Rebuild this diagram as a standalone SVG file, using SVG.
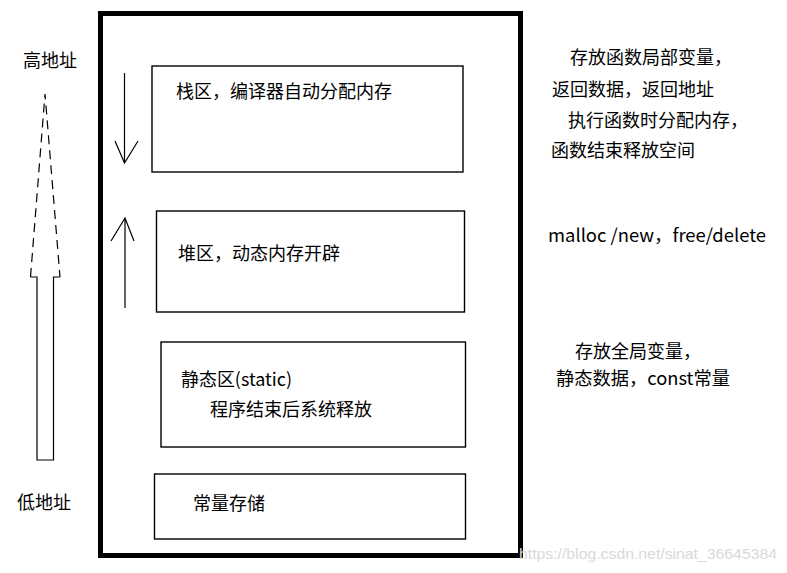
<svg xmlns="http://www.w3.org/2000/svg" width="787" height="573" viewBox="0 0 787 573">
<style>
text{font-family:"Noto Sans CJK SC","Microsoft YaHei",sans-serif;font-size:18px;fill:#000}
.box{fill:none;stroke:#000;stroke-width:1.4}
.ln{fill:none;stroke:#000;stroke-width:1.2}
.wm{font-family:"Liberation Sans",Arial,sans-serif;font-size:15px;fill:#d9d9d9}
</style>
<rect width="787" height="573" fill="#fff"/>
<g id="memory">
<rect x="100.5" y="13.5" width="420" height="542" fill="none" stroke="#000" stroke-width="5"/>
</g>
<g id="stack">
<rect class="box" x="152" y="66" width="311" height="106"/>
<text x="176" y="98">栈区，编译器自动分配内存</text>
</g>
<g id="heap">
<rect class="box" x="156.5" y="211" width="308" height="101"/>
<text x="178" y="260">堆区，动态内存开辟</text>
</g>
<g id="static">
<rect class="box" x="161" y="342" width="304.5" height="105"/>
<text x="181" y="386" textLength="111" lengthAdjust="spacingAndGlyphs">静态区(static)</text>
<text x="210" y="416">程序结束后系统释放</text>
</g>
<g id="const">
<rect class="box" x="154.5" y="474" width="311" height="65"/>
<text x="193" y="510">常量存储</text>
</g>
<g id="labels">
<text x="23" y="67">高地址</text>
<text x="17" y="509">低地址</text>
<text x="570" y="64">存放函数局部变量，</text>
<text x="552" y="96">返回数据，返回地址</text>
<text x="568" y="127">执行函数时分配内存，</text>
<text x="551" y="157">函数结束释放空间</text>
<text x="548" y="242" textLength="218" lengthAdjust="spacingAndGlyphs">malloc /new，free/delete</text>
<text x="575" y="358">存放全局变量，</text>
<text x="556" y="385" textLength="174" lengthAdjust="spacingAndGlyphs">静态数据，const常量</text>
</g>
<g id="connectors">
<path class="ln" d="M124.5,73 V163 M115,141 L124.5,163 L138,141"/>
<path class="ln" d="M125,308 V218 M111,241 L125,218 L134,241"/>
<path class="ln" d="M30.5,277 L45,94 L60,277" stroke-dasharray="9,6"/>
<path class="ln" d="M30.5,277 H37 V460 H53.5 V277 H60"/>
</g>
<text class="wm" x="519" y="559" textLength="258" lengthAdjust="spacingAndGlyphs">https://blog.csdn.net/sinat_36645384</text>
</svg>
